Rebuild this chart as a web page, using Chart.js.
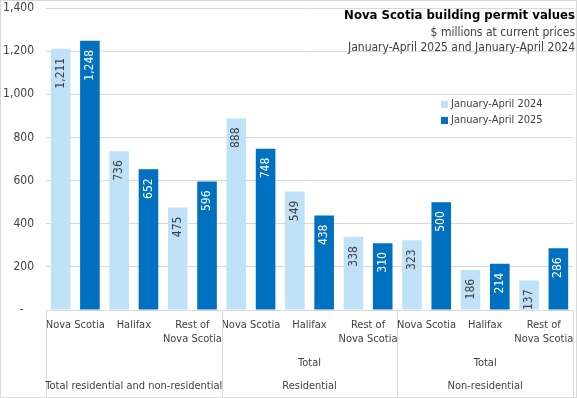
<!DOCTYPE html>
<html>
<head>
<meta charset="utf-8">
<script src="https://cdn.jsdelivr.net/npm/chart.js@4"></script>
<style>
  html, body { margin: 0; padding: 0; background: #fff; }
  #wrap { width: 577px; height: 398px; }
</style>
</head>
<body>
<div id="wrap"><canvas id="permits"></canvas></div>
<script>
const categories = ['Nova Scotia', 'Halifax', ['Rest of', 'Nova Scotia'],
                    'Nova Scotia', 'Halifax', ['Rest of', 'Nova Scotia'],
                    'Nova Scotia', 'Halifax', ['Rest of', 'Nova Scotia']];
const subTotals = ['', 'Total', 'Total'];
const groups = ['Total residential and non-residential', 'Residential', 'Non-residential'];
const seriesNames = ['January-April 2024', 'January-April 2025'];
const values2024 = [1211, 736, 475, 888, 549, 338, 323, 186, 137];
const values2025 = [1248, 652, 596, 748, 438, 310, 500, 214, 286];
const yTicks = [0, 200, 400, 600, 800, 1000, 1200, 1400];
const titleLines = ['Nova Scotia building permit values', '$ millions at current prices', 'January-April 2025 and January-April 2024'];

const FONT = "'Liberation Sans Narrow', 'DejaVu Sans Condensed', sans-serif";
const LIGHT = '#C0E2F9';
const DARK = '#0070C0';
const TEXT = '#404040';
const LINE = '#D9D9D9';

// value labels, rotated, inside the top of each bar
const barLabels = {
  id: 'barLabels',
  afterDatasetsDraw(chart) {
    const ctx = chart.ctx;
    chart.data.datasets.forEach((ds, di) => {
      chart.getDatasetMeta(di).data.forEach((bar, i) => {
        const h = bar.base - bar.y;
        ctx.save();
        ctx.translate(bar.x, bar.y + Math.min(9, h - 18));
        ctx.rotate(-Math.PI / 2);
        ctx.font = '12px ' + FONT;
        ctx.fillStyle = di === 0 ? TEXT : '#ffffff';
        ctx.textAlign = 'right';
        ctx.textBaseline = 'middle';
        ctx.fillText(ds.data[i].toLocaleString('en-US'), 0, 0);
        ctx.restore();
      });
    });
  }
};

// title, legend, grouped axis rows and chart border
const extras = {
  id: 'extras',
  afterDraw(chart) {
    const ctx = chart.ctx;
    const a = chart.chartArea;
    const x = chart.scales.x;
    ctx.save();

    // title block
    ctx.textAlign = 'right';
    ctx.textBaseline = 'middle';
    ctx.fillStyle = '#000';
    ctx.font = 'bold 13px ' + FONT;
    ctx.fillText(titleLines[0], 575, 16);
    ctx.fillStyle = TEXT;
    ctx.font = '12px ' + FONT;
    ctx.fillText(titleLines[1], 575, 33);
    ctx.fillText(titleLines[2], 575, 48);

    // legend
    ctx.textAlign = 'left';
    ctx.font = '11px ' + FONT;
    [LIGHT, DARK].forEach((c, i) => {
      const y = 104 + i * 16;
      ctx.fillStyle = c;
      ctx.fillRect(441, y - 3, 7, 7);
      ctx.fillStyle = TEXT;
      ctx.fillText(seriesNames[i], 451, y + 0.5);
    });

    // separators of the grouped axis
    ctx.strokeStyle = LINE;
    ctx.lineWidth = 1;
    const bounds = [a.left];
    for (let g = 1; g < groups.length; g++) {
      bounds.push((x.getPixelForValue(g * 3 - 1) + x.getPixelForValue(g * 3)) / 2);
    }
    bounds.push(a.right);
    bounds.forEach(bx => {
      const px = Math.round(bx) + 0.5;
      ctx.beginPath();
      ctx.moveTo(px, a.bottom);
      ctx.lineTo(px, chart.height);
      ctx.stroke();
    });

    // second and third label rows
    ctx.textAlign = 'center';
    ctx.fillStyle = TEXT;
    ctx.font = '11px ' + FONT;
    groups.forEach((g, gi) => {
      const cx = (x.getPixelForValue(gi * 3) + x.getPixelForValue(gi * 3 + 2)) / 2;
      if (subTotals[gi]) ctx.fillText(subTotals[gi], cx, a.bottom + 53);
      ctx.fillText(g, cx, a.bottom + 76);
    });

    // chart border
    ctx.strokeStyle = LINE;
    ctx.strokeRect(0.5, 0.5, chart.width - 1, chart.height - 1);
    ctx.restore();
  }
};

const ctx = document.getElementById('permits').getContext('2d');
new Chart(ctx, {
  type: 'bar',
  data: {
    labels: categories,
    datasets: [
      { label: seriesNames[0], data: values2024, backgroundColor: LIGHT },
      { label: seriesNames[1], data: values2025, backgroundColor: DARK }
    ]
  },
  options: {
    responsive: true,
    maintainAspectRatio: false,
    animation: false,
    layout: { padding: { top: 8, right: 4, left: 0, bottom: 0 } },
    datasets: { bar: { barPercentage: 0.67, categoryPercentage: 1 } },
    plugins: {
      legend: { display: false },
      tooltip: { enabled: false }
    },
    scales: {
      x: {
        grid: { display: false, drawTicks: false },
        border: { color: LINE },
        ticks: {
          color: TEXT, font: { family: FONT, size: 11 },
          maxRotation: 0, autoSkip: false, padding: 9
        },
        afterFit(scale) {
          scale.height = 88;
          scale.paddingLeft = 0;
          scale.paddingRight = 0;
        }
      },
      y: {
        min: 0, max: 1400,
        afterBuildTicks(scale) { scale.ticks = yTicks.map(v => ({ value: v })); },
        grid: { color: LINE, drawTicks: false },
        border: { display: false },
        ticks: {
          color: TEXT, font: { family: FONT, size: 12 }, padding: 12,
          callback: v => v === 0 ? '-   ' : v.toLocaleString('en-US')
        },
        afterFit(scale) {
          scale.width = 46;
          scale.paddingTop = 0;
          scale.paddingBottom = 0;
        }
      }
    }
  },
  plugins: [barLabels, extras]
});
</script>
</body>
</html>
